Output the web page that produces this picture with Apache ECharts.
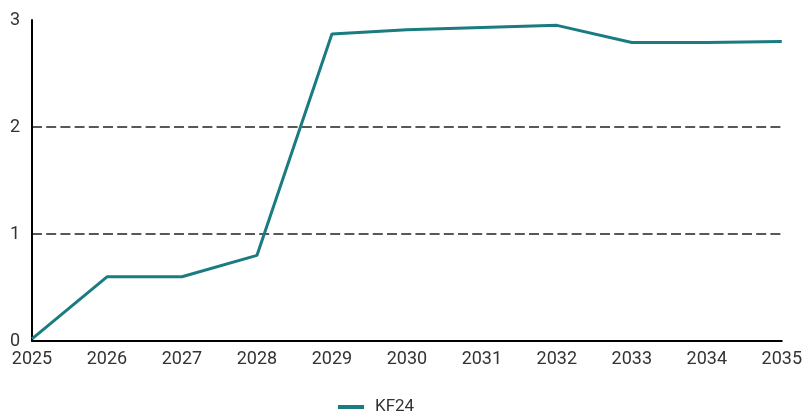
<!DOCTYPE html>
<html><head><meta charset="utf-8">
<script src="https://cdn.jsdelivr.net/npm/echarts@6/dist/echarts.min.js"></script>
<style>html,body{margin:0;padding:0;background:#fff}#c{width:805px;height:415px}</style>
</head><body><div id="c"></div>
<script>
const years = ['2025','2026','2027','2028','2029','2030','2031','2032','2033','2034','2035'];
const kf24 = [0.02, 0.60, 0.60, 0.80, 2.87, 2.91, 2.93, 2.95, 2.79, 2.79, 2.80];
const seriesName = 'KF24';

const chart = echarts.init(document.getElementById('c'));
chart.setOption({
  animation: false,
  textStyle: { fontFamily: 'Roboto' },
  grid: { left: 32, right: 21, top: 20, bottom: 74, containLabel: false },
  legend: {
    data: [seriesName],
    left: 338, top: 398, padding: 0,
    icon: 'rect', itemWidth: 26, itemHeight: 4,
    textStyle: { fontSize: 17, color: '#333', fontFamily: 'Roboto', padding: [0,0,0,6], lineHeight: 18 }
  },
  xAxis: {
    type: 'category', data: years, boundaryGap: false,
    axisLine: { lineStyle: { color: '#000', width: 2 } },
    axisTick: { show: false },
    axisLabel: { fontSize: 18, color: '#333', margin: 9 },
    splitLine: { show: false }
  },
  yAxis: {
    type: 'value', min: 0, max: 3, interval: 1,
    axisLine: { show: true, lineStyle: { color: '#000', width: 2 } },
    axisTick: { show: false },
    axisLabel: { fontSize: 18, color: '#333', margin: 12 },
    splitLine: { show: true, showMinLine: false, showMaxLine: false,
      lineStyle: { color: '#222', width: 1.5, type: [10,4.2] } }
  },
  series: [{
    name: seriesName, type: 'line', data: kf24,
    showSymbol: false, symbol: 'none',
    lineStyle: { color: '#1a7b81', width: 3 },
    itemStyle: { color: '#1a7b81' }
  }]
});
</script></body></html>
